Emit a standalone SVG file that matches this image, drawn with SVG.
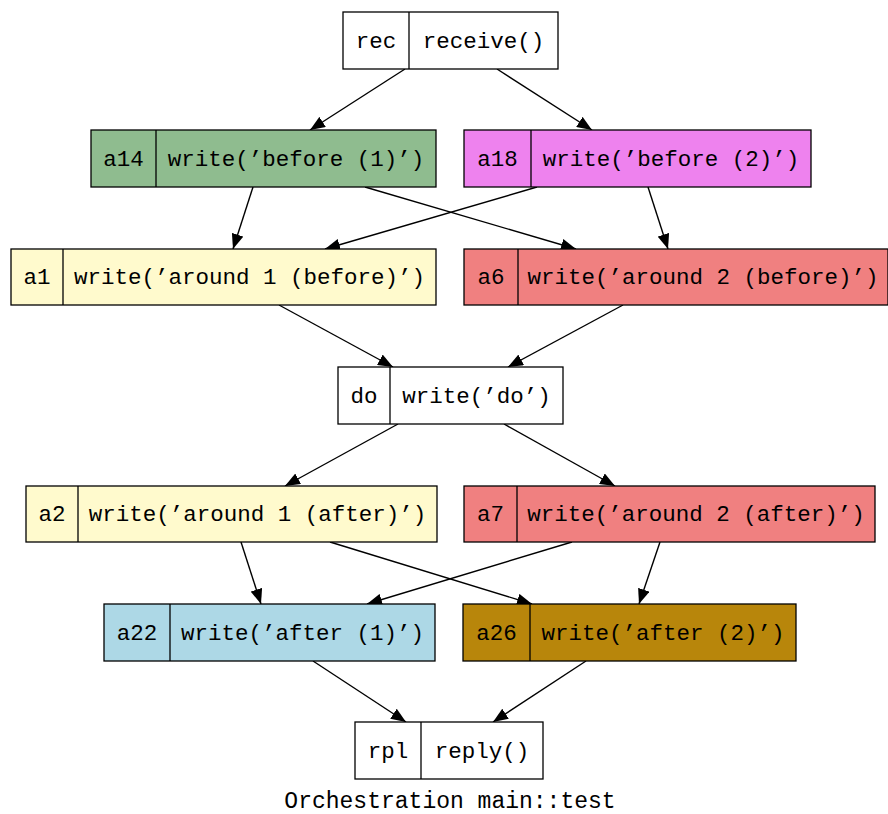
<svg xmlns="http://www.w3.org/2000/svg" width="888" height="814" viewBox="0 0 888 814">
<style>
.box{stroke:#000;stroke-width:1.3}
.div{stroke:#000;stroke-width:1.3}
text{font-family:"Liberation Mono","Courier New",monospace;font-size:22.5px;fill:#000;text-anchor:middle}
.edge{stroke:#000;stroke-width:1.4;fill:none}
</style>
<defs>
<marker id="ah" markerWidth="15" markerHeight="12" refX="15" refY="6" orient="auto" markerUnits="userSpaceOnUse">
<path d="M0,0 L15,6 L0,12 Z" fill="#000"/>
</marker>
</defs>
<rect width="888" height="814" fill="#fff"/>
<g id="edges">
<line class="edge" marker-end="url(#ah)" x1="405" y1="69" x2="310" y2="130"/>
<line class="edge" marker-end="url(#ah)" x1="497" y1="69" x2="592" y2="130"/>
<line class="edge" marker-end="url(#ah)" x1="253" y1="187" x2="233" y2="249"/>
<line class="edge" marker-end="url(#ah)" x1="365" y1="187" x2="576" y2="249"/>
<line class="edge" marker-end="url(#ah)" x1="537" y1="187" x2="325" y2="249"/>
<line class="edge" marker-end="url(#ah)" x1="648" y1="187" x2="668" y2="249"/>
<line class="edge" marker-end="url(#ah)" x1="279" y1="305" x2="393" y2="367"/>
<line class="edge" marker-end="url(#ah)" x1="623" y1="305" x2="508" y2="367"/>
<line class="edge" marker-end="url(#ah)" x1="398" y1="424" x2="285" y2="486"/>
<line class="edge" marker-end="url(#ah)" x1="504" y1="424" x2="615" y2="486"/>
<line class="edge" marker-end="url(#ah)" x1="241" y1="542" x2="261" y2="604"/>
<line class="edge" marker-end="url(#ah)" x1="330" y1="542" x2="532" y2="604"/>
<line class="edge" marker-end="url(#ah)" x1="572" y1="542" x2="367" y2="604"/>
<line class="edge" marker-end="url(#ah)" x1="660" y1="542" x2="639" y2="604"/>
<line class="edge" marker-end="url(#ah)" x1="313" y1="661" x2="406" y2="722"/>
<line class="edge" marker-end="url(#ah)" x1="586" y1="661" x2="493" y2="722"/>
</g>
<g id="rec">
<rect class="box" x="343" y="12" width="215" height="57" fill="#fff"/>
<line class="div" x1="409" y1="12" x2="409" y2="69"/>
<text x="376" y="48">rec</text>
<text x="483.5" y="48">receive()</text>
</g>
<g id="a14">
<rect class="box" x="91" y="130" width="345" height="57" fill="#8fbc8f"/>
<line class="div" x1="156" y1="130" x2="156" y2="187"/>
<text x="123.5" y="166">a14</text>
<text x="296" y="166">write(’before (1)’)</text>
</g>
<g id="a18">
<rect class="box" x="464" y="130" width="347" height="57" fill="#ee82ee"/>
<line class="div" x1="531" y1="130" x2="531" y2="187"/>
<text x="497.5" y="166">a18</text>
<text x="671" y="166">write(’before (2)’)</text>
</g>
<g id="a1">
<rect class="box" x="11" y="249" width="425" height="56" fill="#fffacd"/>
<line class="div" x1="63" y1="249" x2="63" y2="305"/>
<text x="37" y="284">a1</text>
<text x="249.5" y="284">write(’around 1 (before)’)</text>
</g>
<g id="a6">
<rect class="box" x="464" y="249" width="424" height="56" fill="#f08080"/>
<line class="div" x1="518" y1="249" x2="518" y2="305"/>
<text x="491" y="284">a6</text>
<text x="703" y="284">write(’around 2 (before)’)</text>
</g>
<g id="do">
<rect class="box" x="338" y="367" width="225" height="57" fill="#fff"/>
<line class="div" x1="390" y1="367" x2="390" y2="424"/>
<text x="364" y="403">do</text>
<text x="476.5" y="403">write(’do’)</text>
</g>
<g id="a2">
<rect class="box" x="26" y="486" width="411" height="56" fill="#fffacd"/>
<line class="div" x1="78" y1="486" x2="78" y2="542"/>
<text x="52" y="521">a2</text>
<text x="257.5" y="521">write(’around 1 (after)’)</text>
</g>
<g id="a7">
<rect class="box" x="464" y="486" width="411" height="56" fill="#f08080"/>
<line class="div" x1="517" y1="486" x2="517" y2="542"/>
<text x="490.5" y="521">a7</text>
<text x="696" y="521">write(’around 2 (after)’)</text>
</g>
<g id="a22">
<rect class="box" x="104" y="604" width="331" height="57" fill="#add8e6"/>
<line class="div" x1="170" y1="604" x2="170" y2="661"/>
<text x="137" y="640">a22</text>
<text x="302.5" y="640">write(’after (1)’)</text>
</g>
<g id="a26">
<rect class="box" x="463" y="604" width="333" height="57" fill="#b8860b"/>
<line class="div" x1="530" y1="604" x2="530" y2="661"/>
<text x="496.5" y="640">a26</text>
<text x="663" y="640">write(’after (2)’)</text>
</g>
<g id="rpl">
<rect class="box" x="355" y="722" width="188" height="57" fill="#fff"/>
<line class="div" x1="421" y1="722" x2="421" y2="779"/>
<text x="388" y="758">rpl</text>
<text x="482" y="758">reply()</text>
</g>
<text x="450" y="808" style="font-size:23px">Orchestration main::test</text>
</svg>
